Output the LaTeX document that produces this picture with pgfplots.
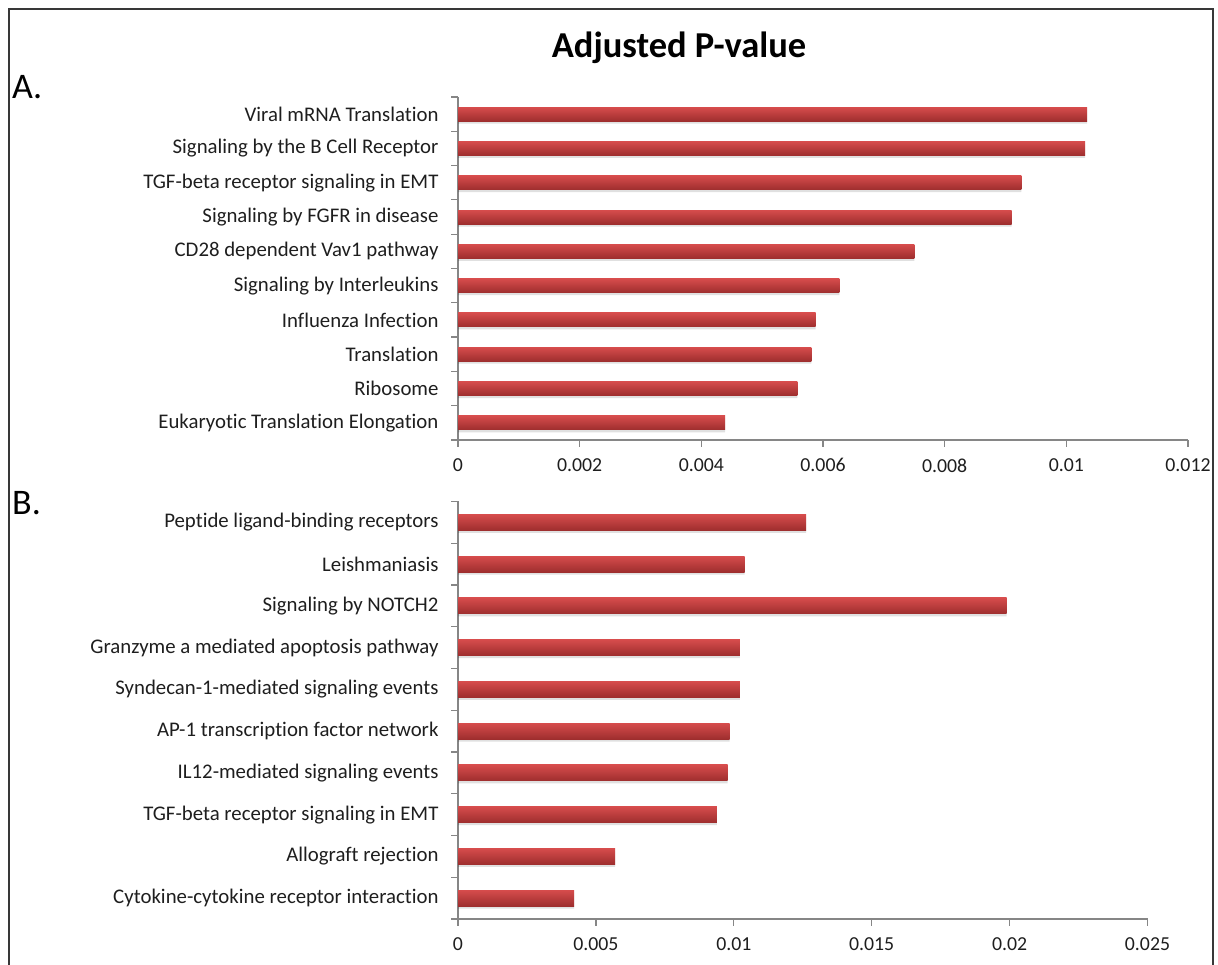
\documentclass[border=0pt]{standalone}
\usepackage{fontspec}
\setmainfont{Carlito}[Ligatures=NoCommon]
\usepackage{pgfplots}
\pgfplotsset{compat=1.18}

\definecolor{axgray}{RGB}{134,134,134}
\definecolor{bartop}{RGB}{214,76,76}
\definecolor{barmid}{RGB}{196,60,60}
\definecolor{barbot}{RGB}{158,46,46}
\definecolor{txt}{RGB}{30,30,30}

\pgfplotsset{
  panel/.style={
    scale only axis,
    axis x line*=bottom,
    axis y line*=left,
    axis line style={draw=axgray, line width=1.2pt},
    ymin=0.5, ymax=10.5,
    ytick={1,...,10},
    minor ytick={0.5,1.5,...,10.5},
    major y tick style={draw=none},
    minor y tick style={draw=axgray, line width=1.2pt},
    x tick style={draw=axgray, line width=1.2pt},
    tick align=outside,
    major tick length=7pt,
    minor tick length=7pt,
    xmin=0,
    scaled x ticks=false,
    clip=false,
    xticklabel style={font=\fontsize{19.8}{22}\selectfont, text=txt, yshift=-8pt},
    yticklabel style={font=\fontsize{20.8}{24}\selectfont, text=txt, anchor=east, xshift=-9pt},
  },
  shadowbar/.style={xbar, bar width=#1, bar shift=-2.5pt, draw=none, fill=black, opacity=0.12},
  redbar/.style={xbar, bar width=#1, draw=none, top color=bartop, middle color=barmid, bottom color=barbot},
}

% one shaded bar per call, so that every bar gets its own gradient
\newcommand{\rbar}[3]{\addplot[redbar=#3] coordinates {(#1,#2)};}

\begin{document}
\begin{tikzpicture}[x=1pt, y=1pt]
\useasboundingbox (0,0) rectangle (1218,965);

% outer frame
\draw[line width=1.5pt, black!78] (9,0) -- (9,956) -- (1213,956) -- (1213,0);

% title and panel letters
\node[anchor=base, font=\bfseries\fontsize{36.5}{40}\selectfont] at (679,907) {Adjusted P-value};
\node[anchor=base west, font=\fontsize{36}{40}\selectfont, inner sep=0pt] at (12,866) {A.};
\node[anchor=base west, font=\fontsize{36}{40}\selectfont, inner sep=0pt] at (12,450) {B.};

% Panel A
\begin{axis}[panel,
  at={(458pt,525pt)}, anchor=south west,
  width=730pt, height=343pt,
  xmax=0.012,
  xtick={0,0.002,0.004,0.006,0.008,0.01,0.012},
  xticklabels={0,0.002,0.004,0.006,0.008,0.01,0.012},
  yticklabels={Eukaryotic Translation Elongation,Ribosome,Translation,Influenza Infection,Signaling by Interleukins,CD28 dependent Vav1 pathway,Signaling by FGFR in disease,{TGF-beta receptor signaling in EMT\hspace{5pt}},{Signaling by the B Cell Receptor\hspace{5pt}},Viral mRNA Translation},
]
\addplot[shadowbar=14pt] coordinates {
  (0.00439,1) (0.00558,2) (0.00581,3) (0.00588,4) (0.00627,5)
  (0.00750,6) (0.00910,7) (0.00926,8) (0.01031,9) (0.01034,10)};
\rbar{0.00439}{1}{14pt}
\rbar{0.00558}{2}{14pt}
\rbar{0.00581}{3}{14pt}
\rbar{0.00588}{4}{14pt}
\rbar{0.00627}{5}{14pt}
\rbar{0.00750}{6}{14pt}
\rbar{0.00910}{7}{14pt}
\rbar{0.00926}{8}{14pt}
\rbar{0.01031}{9}{14pt}
\rbar{0.01034}{10}{14pt}
\end{axis}

% Panel B
\begin{axis}[panel,
  at={(458pt,46pt)}, anchor=south west,
  width=689.5pt, height=417.5pt,
  xmax=0.025,
  xtick={0,0.005,0.01,0.015,0.02,0.025},
  xticklabels={0,0.005,0.01,0.015,0.02,0.025},
  yticklabels={Cytokine-cytokine receptor interaction,Allograft rejection,{TGF-beta receptor signaling in EMT\hspace{5pt}},IL12-mediated signaling events,AP-1 transcription factor network,Syndecan-1-mediated signaling events,Granzyme a mediated apoptosis pathway,Signaling by NOTCH2,Leishmaniasis,Peptide ligand-binding receptors},
]
\addplot[shadowbar=16pt] coordinates {
  (0.00421,1) (0.00570,2) (0.00939,3) (0.00978,4) (0.00985,5)
  (0.01022,6) (0.01022,7) (0.01989,8) (0.01039,9) (0.01262,10)};
\rbar{0.00421}{1}{16pt}
\rbar{0.00570}{2}{16pt}
\rbar{0.00939}{3}{16pt}
\rbar{0.00978}{4}{16pt}
\rbar{0.00985}{5}{16pt}
\rbar{0.01022}{6}{16pt}
\rbar{0.01022}{7}{16pt}
\rbar{0.01989}{8}{16pt}
\rbar{0.01039}{9}{16pt}
\rbar{0.01262}{10}{16pt}
\end{axis}
\end{tikzpicture}
\end{document}
